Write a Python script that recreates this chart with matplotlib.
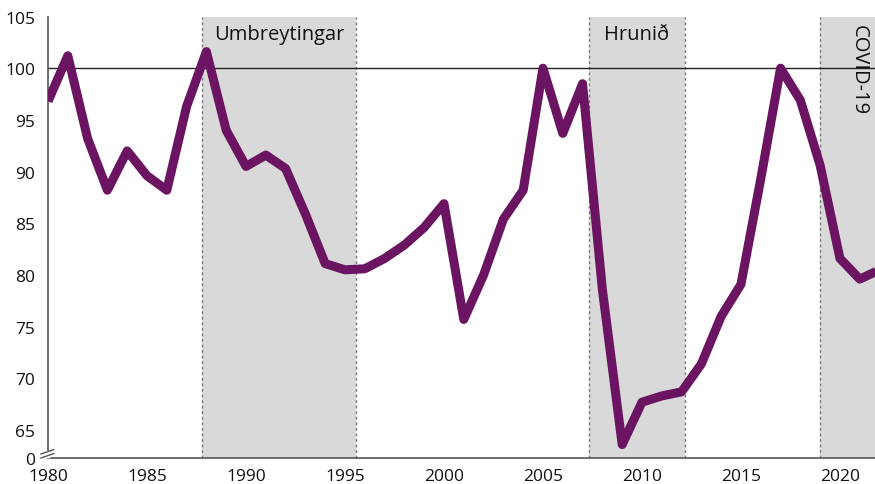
import matplotlib
matplotlib.use("Agg")
import matplotlib.pyplot as plt
import numpy as np

plt.rcParams['font.family'] = ['Open Sans', 'DejaVu Sans']

years = list(range(1980, 2023))
values = [96.8, 101.2, 93.2, 88.2, 92.0, 89.6, 88.2, 96.3, 101.6, 94.0,
          90.5, 91.6, 90.3, 85.9, 81.1, 80.5, 80.6, 81.6, 82.9, 84.6,
          86.9, 75.7, 80.0, 85.4, 88.2, 100.0, 93.7, 98.5, 78.6, 63.6,
          67.7, 68.3, 68.7, 71.4, 76.0, 79.1, 89.3, 100.0, 96.9, 90.6,
          81.6, 79.6, 80.5]

periods = ["Umbreytingar", "Hrunið", "COVID-19"]
period_start = [1987.8, 2007.35, 2019.0]
period_end = [1995.55, 2012.15, 2022.9]
period_rot = [0, 0, 270]

yticks = [65, 70, 75, 80, 85, 90, 95, 100, 105]
y_bottom = 62.3  # position standing for 0 after the axis break
ref_value = 100

purple = "#6b1461"
shade = "#d9d9d9"

fig = plt.figure(figsize=(8.75, 4.85), dpi=100)
ax = fig.add_axes([48/875, 26/485, 1 - 48/875, (459 - 17.5)/485])

for name, s, e, r in zip(periods, period_start, period_end, period_rot):
    ax.axvspan(s, e, color=shade, lw=0, zorder=0)
    for xv in (s, e):
        ax.axvline(xv, color="#777777", lw=1.0, ls=(0, (2, 2)), zorder=1)
    ax.text((s + e) / 2, 104.3, name, ha="center", va="top", fontsize=14.5,
            rotation=r, color="#111111", zorder=2, clip_on=False)

ax.axhline(ref_value, color="#222222", lw=1.0, zorder=2)

ax.plot(years, values, color=purple, lw=6.5, solid_joinstyle="round",
        solid_capstyle="butt", zorder=3)

ax.set_xlim(1980, 2021.77)
ax.set_ylim(y_bottom, 105)

ax.set_xticks([1980, 1985, 1990, 1995, 2000, 2005, 2010, 2015, 2020])
ax.set_yticks([y_bottom] + yticks)
ax.set_yticklabels(["0"] + [str(t) for t in yticks])
ax.tick_params(axis="both", length=0, labelsize=12.5, colors="#111111")
ax.tick_params(axis="y", pad=9)
ax.tick_params(axis="x", pad=7)

for side in ("top", "right"):
    ax.spines[side].set_visible(False)
for side in ("left", "bottom"):
    ax.spines[side].set_color("#555555")
    ax.spines[side].set_linewidth(1.2)

# axis break marks
ax.plot([0, 0], [0.004, 0.013], transform=ax.transAxes, color="white",
        lw=2.5, clip_on=False, zorder=4)
for y0 in (0.0, 0.009):
    ax.plot([-0.0085, 0.007], [y0, y0 + 0.010], transform=ax.transAxes,
            color="#555555", lw=1.0, clip_on=False, zorder=5)

fig.savefig("out.png", dpi=100)
